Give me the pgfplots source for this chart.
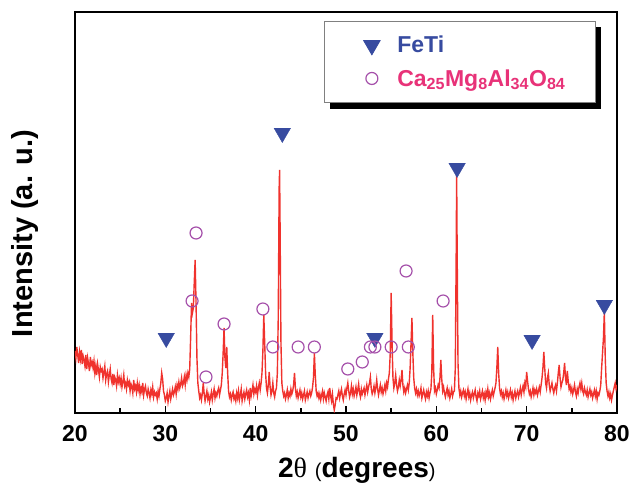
\documentclass[border=0pt]{standalone}
\usepackage{pgfplots}
\pgfplotsset{compat=1.18}
\usetikzlibrary{shadows}
\usepackage{fontspec}
\setmainfont{Liberation Sans}
\newfontfamily\serifgreek{Liberation Serif}
\definecolor{xrdred}{RGB}{240,50,45}
\definecolor{fetiblue}{RGB}{55,75,160}
\definecolor{circpurple}{RGB}{165,80,170}
\definecolor{capink}{RGB}{232,50,120}
\pgfplotsset{
  mylegimg/.style={legend image code/.code={\path (0pt,-8pt) (60pt,8pt); \draw[##1] plot coordinates {(37pt,0pt)};}},
}
\begin{document}
\begin{tikzpicture}
\useasboundingbox (0,0) rectangle (633pt,484pt);
\begin{axis}[
  at={(75pt,71pt)}, anchor=south west,
  width=542pt, height=401pt, scale only axis,
  xmin=20, xmax=80, ymin=0, ymax=401,
  xtick={20,30,...,80}, minor xtick={25,35,...,75},
  ytick=\empty,
  xtick pos=left, tick align=inside,
  major tick length=7pt, minor tick length=5pt,
  every tick/.style={black, line width=1.5pt},
  axis line style={line width=1.6pt, black},
  /pgf/number format/assume math mode=true,
  xticklabel style={font=\fontsize{23}{23}\selectfont\bfseries, anchor=base, yshift=-29pt},
  xlabel={2{\serifgreek\mdseries θ} {\fontsize{20}{20}\selectfont\mdseries(}degrees{\fontsize{20}{20}\selectfont\mdseries)}},
  xlabel style={at={(axis description cs:0.52,0)}, anchor=base, yshift=-65pt, font=\fontsize{28}{30}\selectfont\bfseries},
  ylabel={Intensity (a. u.)},
  ylabel style={at={(axis description cs:-0.092,0.448)}, anchor=center, font=\fontsize{29}{30}\selectfont\bfseries},
  legend style={at={(0.961,0.978)}, anchor=north east, draw=gray, line width=0.8pt, fill=white,
    drop shadow={shadow xshift=6pt, shadow yshift=-6pt, fill=black, opacity=1},
    inner xsep=10pt, inner ysep=13pt, row sep=11pt, font=\fontsize{23}{23}\selectfont\bfseries},
  legend cell align=left,
]
\addplot[xrdred, line width=1.4pt, forget plot] coordinates {
(20.0,62) (20.1,55) (20.2,66) (20.3,58) (20.4,50) (20.5,61) (20.6,54) (20.7,63) (20.8,49) (20.9,57)
(21.0,53) (21.1,47) (21.2,58) (21.3,44) (21.4,55) (21.5,49) (21.6,42) (21.7,56) (21.8,48) (21.9,51)
(22.0,45) (22.1,52) (22.2,40) (22.3,47) (22.4,38) (22.5,49) (22.6,43) (22.7,36) (22.8,46) (22.9,42)
(23.0,44) (23.1,35) (23.2,41) (23.3,47) (23.4,33) (23.5,39) (23.6,42) (23.7,31) (23.8,38) (23.9,44)
(24.0,34) (24.1,30) (24.2,39) (24.3,28) (24.4,36) (24.5,33) (24.6,27) (24.7,38) (24.8,31) (24.9,35)
(25.0,29) (25.1,35) (25.2,26) (25.3,31) (25.4,38) (25.5,27) (25.6,30) (25.7,24) (25.8,33) (25.9,28)
(26.0,31) (26.1,22) (26.2,29) (26.3,26) (26.4,20) (26.5,33) (26.6,24) (26.7,27) (26.8,21) (26.9,30)
(27.0,23) (27.1,28) (27.2,19) (27.3,25) (27.4,21) (27.5,30) (27.6,18) (27.7,24) (27.8,27) (27.9,20)
(28.0,17) (28.1,24) (28.2,20) (28.3,15) (28.4,23) (28.5,19) (28.6,26) (28.7,16) (28.8,21) (28.9,18)
(29.0,20) (29.1,14) (29.2,22) (29.3,17) (29.4,24) (29.5,30) (29.6,40) (29.7,34) (29.8,22) (29.9,18)
(30.0,12) (30.1,15) (30.2,20) (30.3,11) (30.4,17) (30.5,22) (30.6,14) (30.7,19) (30.8,24) (30.9,18)
(31.0,21) (31.1,26) (31.2,19) (31.3,28) (31.4,24) (31.5,31) (31.6,25) (31.7,29) (31.8,35) (31.9,27)
(32.0,30) (32.1,36) (32.2,28) (32.3,38) (32.4,33) (32.5,40) (32.6,36) (32.7,44) (32.8,75) (32.9,110)
(33.0,100) (33.1,105) (33.2,130) (33.3,153) (33.4,110) (33.5,55) (33.6,30) (33.7,22) (33.8,15) (33.9,18)
(34.0,13) (34.1,20) (34.2,30) (34.3,19) (34.4,12) (34.5,17) (34.6,22) (34.7,14) (34.8,18) (34.9,11)
(35.0,16) (35.1,21) (35.2,13) (35.3,19) (35.4,24) (35.5,15) (35.6,20) (35.7,17) (35.8,22) (35.9,25)
(36.0,18) (36.1,23) (36.2,28) (36.3,40) (36.4,60) (36.5,85) (36.6,55) (36.7,45) (36.8,66) (36.9,40)
(37.0,22) (37.1,16) (37.2,19) (37.3,13) (37.4,18) (37.5,21) (37.6,14) (37.7,17) (37.8,12) (37.9,20)
(38.0,15) (38.1,22) (38.2,13) (38.3,18) (38.4,24) (38.5,12) (38.6,17) (38.7,21) (38.8,14) (38.9,19)
(39.0,23) (39.1,16) (39.2,20) (39.3,13) (39.4,25) (39.5,17) (39.6,22) (39.7,28) (39.8,19) (39.9,24)
(40.0,21) (40.1,27) (40.2,18) (40.3,25) (40.4,30) (40.5,23) (40.6,30) (40.7,40) (40.8,62) (40.9,98)
(41.0,70) (41.1,40) (41.2,25) (41.3,20) (41.4,28) (41.5,41) (41.6,26) (41.7,18) (41.8,22) (41.9,30)
(42.0,20) (42.1,16) (42.2,22) (42.3,25) (42.4,40) (42.5,95) (42.6,225) (42.65,243) (42.7,190) (42.8,70) (42.9,30)
(43.0,22) (43.1,17) (43.2,20) (43.3,14) (43.4,18) (43.5,23) (43.6,15) (43.7,20) (43.8,17) (43.9,24)
(44.0,19) (44.1,22) (44.2,28) (44.3,40) (44.4,25) (44.5,17) (44.6,21) (44.7,15) (44.8,19) (44.9,23)
(45.0,16) (45.1,20) (45.2,14) (45.3,18) (45.4,22) (45.5,13) (45.6,17) (45.7,21) (45.8,15) (45.9,19)
(46.0,22) (46.1,17) (46.2,20) (46.3,26) (46.4,35) (46.5,60) (46.6,38) (46.7,22) (46.8,17) (46.9,20)
(47.0,15) (47.1,19) (47.2,13) (47.3,18) (47.4,22) (47.5,14) (47.6,20) (47.7,16) (47.8,12) (47.9,18)
(48.0,21) (48.1,14) (48.2,25) (48.3,17) (48.4,12) (48.5,19) (48.6,9) (48.7,3) (48.8,8) (48.9,15)
(49.0,14) (49.1,18) (49.2,22) (49.3,15) (49.4,20) (49.5,24) (49.6,17) (49.7,13) (49.8,19) (49.9,23)
(50.0,18) (50.1,25) (50.2,30) (50.3,22) (50.4,16) (50.5,20) (50.6,27) (50.7,19) (50.8,24) (50.9,17)
(51.0,21) (51.1,26) (51.2,18) (51.3,23) (51.4,29) (51.5,20) (51.6,16) (51.7,24) (51.8,19) (51.9,22)
(52.0,25) (52.1,18) (52.2,23) (52.3,28) (52.4,21) (52.5,26) (52.6,30) (52.7,36) (52.8,24) (52.9,19)
(53.0,22) (53.1,27) (53.2,20) (53.3,25) (53.4,33) (53.5,24) (53.6,18) (53.7,23) (53.8,28) (53.9,21)
(54.0,25) (54.1,19) (54.2,23) (54.3,28) (54.4,22) (54.5,30) (54.6,26) (54.7,34) (54.8,40) (54.9,60)
(55.0,120) (55.1,70) (55.2,35) (55.3,25) (55.4,30) (55.5,38) (55.6,28) (55.7,22) (55.8,26) (55.9,33)
(56.0,27) (56.1,33) (56.2,43) (56.3,28) (56.4,21) (56.5,25) (56.6,20) (56.7,24) (56.8,28) (56.9,23)
(57.0,30) (57.1,45) (57.2,70) (57.3,95) (57.4,60) (57.5,35) (57.6,25) (57.7,20) (57.8,24) (57.9,18)
(58.0,22) (58.1,17) (58.2,20) (58.3,25) (58.4,15) (58.5,19) (58.6,23) (58.7,18) (58.8,14) (58.9,21)
(59.0,17) (59.1,22) (59.2,15) (59.3,20) (59.4,24) (59.5,40) (59.6,98) (59.7,45) (59.8,22) (59.9,25)
(60.0,19) (60.1,23) (60.2,28) (60.3,25) (60.4,35) (60.5,53) (60.6,34) (60.7,22) (60.8,26) (60.9,20)
(61.0,16) (61.1,21) (61.2,25) (61.3,18) (61.4,22) (61.5,15) (61.6,19) (61.7,24) (61.8,17) (61.9,21)
(62.0,22) (62.1,45) (62.2,160) (62.25,238) (62.3,170) (62.4,50) (62.5,25) (62.6,18) (62.7,22) (62.8,16) (62.9,20)
(63.0,23) (63.1,17) (63.2,21) (63.3,14) (63.4,19) (63.5,24) (63.6,16) (63.7,20) (63.8,13) (63.9,18)
(64.0,21) (64.1,15) (64.2,19) (64.3,23) (64.4,16) (64.5,12) (64.6,20) (64.7,17) (64.8,22) (64.9,14)
(65.0,18) (65.1,22) (65.2,15) (65.3,19) (65.4,13) (65.5,21) (65.6,17) (65.7,24) (65.8,16) (65.9,20)
(66.0,14) (66.1,19) (66.2,23) (66.3,17) (66.4,21) (66.5,25) (66.6,30) (66.7,45) (66.8,66) (66.9,40)
(67.0,25) (67.1,19) (67.2,22) (67.3,16) (67.4,20) (67.5,14) (67.6,18) (67.7,23) (67.8,17) (67.9,21)
(68.0,15) (68.1,19) (68.2,23) (68.3,16) (68.4,20) (68.5,13) (68.6,18) (68.7,22) (68.8,15) (68.9,19)
(69.0,22) (69.1,16) (69.2,20) (69.3,25) (69.4,18) (69.5,23) (69.6,27) (69.7,21) (69.8,30) (69.9,26)
(70.0,41) (70.1,32) (70.2,24) (70.3,19) (70.4,22) (70.5,16) (70.6,20) (70.7,25) (70.8,18) (70.9,23)
(71.0,20) (71.1,24) (71.2,18) (71.3,22) (71.4,26) (71.5,21) (71.6,28) (71.7,35) (71.8,45) (71.9,61)
(72.0,45) (72.1,30) (72.2,25) (72.3,35) (72.4,40) (72.5,28) (72.6,22) (72.7,26) (72.8,30) (72.9,24)
(73.0,20) (73.1,25) (73.2,28) (73.3,22) (73.4,30) (73.5,40) (73.6,48) (73.7,35) (73.8,26) (73.9,30)
(74.0,33) (74.1,40) (74.2,50) (74.3,35) (74.4,28) (74.5,42) (74.6,32) (74.7,24) (74.8,27) (74.9,21)
(75.0,25) (75.1,19) (75.2,23) (75.3,28) (75.4,21) (75.5,17) (75.6,24) (75.7,20) (75.8,26) (75.9,30)
(76.0,24) (76.1,30) (76.2,22) (76.3,19) (76.4,25) (76.5,21) (76.6,18) (76.7,23) (76.8,16) (76.9,20)
(77.0,24) (77.1,18) (77.2,21) (77.3,15) (77.4,19) (77.5,23) (77.6,17) (77.7,22) (77.8,14) (77.9,20)
(78.0,18) (78.1,22) (78.2,28) (78.3,45) (78.4,60) (78.5,75) (78.6,101) (78.7,55) (78.8,30) (78.9,22)
(79.0,17) (79.1,21) (79.2,15) (79.3,19) (79.4,13) (79.5,18) (79.6,22) (79.7,26) (79.8,30) (79.9,24)
(80.0,28)
};
\addplot[only marks, mark=triangle*, mark size=9.5pt, color=fetiblue, mark options={rotate=180, fill=fetiblue, draw=fetiblue}, forget plot] coordinates {
(30.1,75) (42.95,280) (53.2,75) (62.3,245) (70.6,73) (78.6,108)
};
\addplot[only marks, mark=o, mark size=6pt, color=circpurple, mark options={line width=1.2pt, draw=circpurple}, forget plot] coordinates {
(32.96,112) (33.4,180) (34.5,36) (36.5,89) (40.8,104) (41.9,66) (44.7,66) (46.5,66)
(50.2,44) (51.8,51) (52.7,66) (53.2,66) (55.0,66) (56.65,142) (56.9,66) (60.75,112)
};
\addlegendimage{mark=triangle*, mark size=9.5pt, color=fetiblue, mark options={rotate=180, fill=fetiblue, draw=fetiblue}, mylegimg}
\addlegendentry{\textcolor{fetiblue}{FeTi}}
\addlegendimage{mark=o, mark size=6pt, color=circpurple, mark options={line width=1.2pt, draw=circpurple}, mylegimg}
\addlegendentry{\textcolor{capink}{Ca\textsubscript{25}Mg\textsubscript{8}Al\textsubscript{34}O\textsubscript{84}}\hspace*{18pt}}
\end{axis}
\end{tikzpicture}
\end{document}
